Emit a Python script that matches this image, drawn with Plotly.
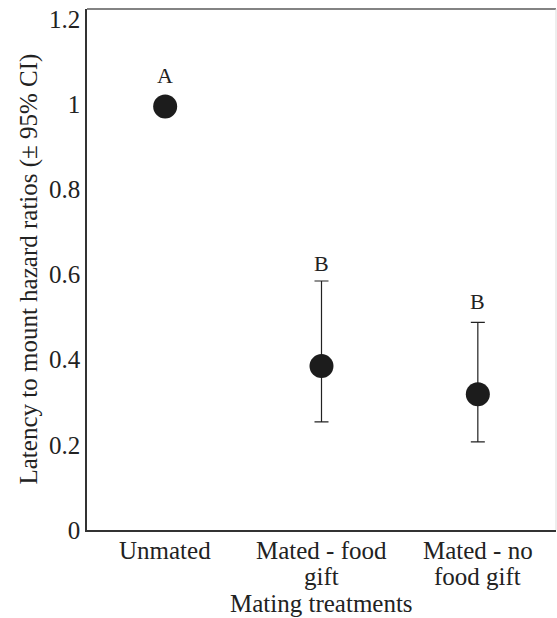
import plotly.graph_objects as go

categories = ["Unmated", "Mated - food gift", "Mated - no food gift"]
category_lines = [["Unmated"], ["Mated - food", "gift"], ["Mated - no", "food gift"]]
hazard = [0.995, 0.385, 0.319]
ci_upper = [0.995, 0.585, 0.488]
ci_lower = [0.995, 0.254, 0.207]
letters = ["A", "B", "B"]
letter_y = [1.068, 0.627, 0.538]
y_ticks = [0, 0.2, 0.4, 0.6, 0.8, 1, 1.2]
y_tick_text = ["0", "0.2", "0.4", "0.6", "0.8", "1", "1.2"]
x_title = "Mating treatments"
y_title = "Latency to mount hazard ratios (± 95% CI)"

err_plus = [u - h for u, h in zip(ci_upper, hazard)]
err_minus = [h - l for h, l in zip(hazard, ci_lower)]
xs = list(range(len(categories)))

FONT = "Liberation Serif, Times New Roman, serif"
TXT = "#222222"

fig = go.Figure()
fig.add_trace(go.Scatter(
    x=xs, y=hazard, mode="markers",
    marker=dict(size=24, color="#1c1c1c"),
    error_y=dict(type="data", symmetric=False, array=err_plus, arrayminus=err_minus,
                 color="#222222", thickness=1.2, width=7),
    showlegend=False, hoverinfo="skip",
))

for x, t, y in zip(xs, letters, letter_y):
    fig.add_annotation(x=x, y=y, text=t, showarrow=False,
                       font=dict(family=FONT, size=22, color=TXT))

# category labels (two-line, tight line spacing)
for x, lines in zip(xs, category_lines):
    for i, line in enumerate(lines):
        fig.add_annotation(x=x, xref="x", yref="paper", y=0, yshift=-20 - 26 * i,
                           text=line, showarrow=False, xanchor="center", yanchor="middle",
                           font=dict(family=FONT, size=25, color=TXT))

# axis titles
fig.add_annotation(xref="paper", yref="paper", x=0, y=0.5, xshift=-59, text=y_title,
                   textangle=-90, showarrow=False, xanchor="center", yanchor="middle",
                   font=dict(family=FONT, size=25, color=TXT))
fig.add_annotation(xref="paper", yref="paper", x=0.5, y=0, yshift=-73, text=x_title,
                   showarrow=False, xanchor="center", yanchor="middle",
                   font=dict(family=FONT, size=25, color=TXT))

# frame top and right
fig.add_shape(type="line", xref="paper", yref="paper", x0=0, x1=1, y0=1, y1=1,
              line=dict(color="#5a5a5a", width=1.5))
fig.add_shape(type="line", xref="paper", yref="paper", x0=1, x1=1, y0=0, y1=1,
              line=dict(color="#dddddd", width=1))

fig.update_layout(
    width=557, height=618,
    margin=dict(l=87, r=1, t=9, b=88),
    paper_bgcolor="white", plot_bgcolor="white",
    font=dict(family=FONT, size=25, color=TXT),
    xaxis=dict(range=[-0.5, 2.5], tickmode="array", tickvals=xs, showticklabels=False,
               showgrid=False, zeroline=False, showline=True, linecolor="#333333", linewidth=1.5,
               ticks="", automargin=False),
    yaxis=dict(range=[0, 1.224], tickmode="array", tickvals=y_ticks, ticktext=y_tick_text,
               showgrid=False, zeroline=False, showline=True, linecolor="#333333", linewidth=1.5,
               ticks="", tickfont=dict(size=25), ticklabelstandoff=0, automargin=False),
)

fig.write_html("out.html", config={"displayModeBar": False},
               post_script="document.body.style.margin='0';document.body.style.overflow='hidden';")
